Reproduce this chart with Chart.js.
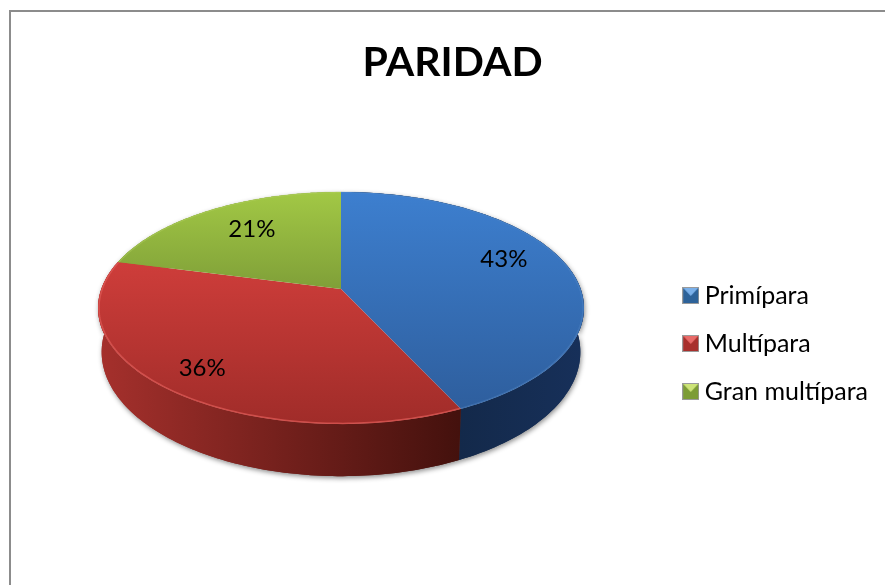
<!DOCTYPE html>
<html>
<head>
<meta charset="utf-8">
<script src="https://cdn.jsdelivr.net/npm/chart.js@4"></script>
<style>
  html, body { margin: 0; padding: 0; background: #fff; overflow: hidden; }
  canvas { display: block; }
</style>
</head>
<body>
<canvas id="paridadChart" width="885" height="585"></canvas>
<script>
const labels = ["Primípara", "Multípara", "Gran multípara"];
const values = [43, 36, 21];

// face colours per slice: top and bottom of the lid
const topColors = [["#3d7fcf", "#2d5c9a"], ["#d03e3b", "#a02c29"], ["#a2c845", "#7f9f38"]];
const lidSpans = [[192, 424], [255, 424], [192, 290]];
const sideColors = [["#13294a", "#17305a"], ["#a5302c", "#44110d"], ["#7f9f38", "#7f9f38"]];
const edgeColors = ["rgba(90,140,200,0.35)", "rgba(222,90,85,0.75)", "rgba(180,210,100,0.4)"];
const legendColors = [["#7ab0ea", "#2d6299"], ["#e86a68", "#a82f2c"], ["#cde478", "#7c9c36"]];

// label placement along each slice: radius fraction and turn in degrees
const labelRadius = [0.763, 0.815, 0.71];
const labelTurn = [-8.8, 0, 2.8];

// tilted disc geometry
const disc = { cx: 341, cy: 308, a: 239.7, b: 116, c: -19, p: -0.164, depth: 44, growY: 1.07, shrinkX: 0.985 };

// ============================
function project(theta, r) {
  const u = r * Math.cos(theta);
  const v = r * Math.sin(theta);
  const w = 1 + disc.p * v;
  return { x: disc.a * u / w, y: (disc.b * v + disc.c) / w };
}

function topPoint(theta, r = 1) {
  const q = project(theta, r);
  return { x: disc.cx + q.x, y: disc.cy + q.y };
}

function bottomPoint(theta) {
  const q = project(theta, 1);
  return { x: disc.cx + q.x * disc.shrinkX, y: disc.cy + disc.depth + q.y * disc.growY };
}

function arcAngles(arc) {
  const out = [];
  const steps = 120;
  for (let i = 0; i <= steps; i++) {
    out.push(arc.startAngle + (arc.endAngle - arc.startAngle) * i / steps);
  }
  return out;
}

// ============================
function drawSide(ctx, arc, i) {
  const angles = arcAngles(arc);
  const g = ctx.createLinearGradient(i === 0 ? 459 : 100, 0, i === 0 ? 584 : 459, 0);
  g.addColorStop(0, sideColors[i][0]);
  g.addColorStop(1, sideColors[i][1]);
  ctx.beginPath();
  angles.forEach((t, k) => {
    const q = topPoint(t);
    if (k === 0) ctx.moveTo(q.x, q.y); else ctx.lineTo(q.x, q.y);
  });
  angles.slice().reverse().forEach(t => {
    const q = bottomPoint(t);
    ctx.lineTo(q.x, q.y);
  });
  ctx.closePath();
  ctx.fillStyle = g;
  ctx.fill();
}

function lidGradient(ctx, i) {
  const g = ctx.createLinearGradient(0, lidSpans[i][0], 0, lidSpans[i][1]);
  g.addColorStop(0, topColors[i][0]);
  g.addColorStop(1, topColors[i][1]);
  return g;
}

function drawTop(ctx, arc, i) {
  const angles = arcAngles(arc);
  ctx.beginPath();
  ctx.moveTo(disc.cx + project(0, 0).x, disc.cy + project(0, 0).y);
  angles.forEach(t => {
    const q = topPoint(t);
    ctx.lineTo(q.x, q.y);
  });
  ctx.closePath();
  ctx.fillStyle = lidGradient(ctx, i);
  ctx.fill();

  // thin light rim on the lid
  ctx.beginPath();
  angles.forEach((t, k) => {
    const q = topPoint(t, 0.996);
    if (k === 0) ctx.moveTo(q.x, q.y); else ctx.lineTo(q.x, q.y);
  });
  ctx.strokeStyle = edgeColors[i];
  ctx.lineWidth = 1.5;
  ctx.stroke();
}

// ============================
const tiltedPie = {
  id: "tiltedPie",
  beforeDraw(chart) {
    const ctx = chart.ctx;
    ctx.save();
    ctx.fillStyle = "#8c8c8c";
    ctx.fillRect(9, 10, 876, 2);
    ctx.fillRect(9, 10, 2, 575);
    ctx.restore();
  },
  beforeDatasetsDraw(chart) {
    const ctx = chart.ctx;
    const arcs = chart.getDatasetMeta(0).data;

    ctx.save();
    ctx.shadowColor = "rgba(0,0,0,0.45)";
    ctx.shadowBlur = 5;
    ctx.shadowOffsetY = 2;
    ctx.shadowOffsetX = 1;
    arcs.forEach((arc, i) => drawSide(ctx, arc, i));
    ctx.restore();

    ctx.save();
    arcs.forEach((arc, i) => drawSide(ctx, arc, i));
    arcs.forEach((arc, i) => drawTop(ctx, arc, i));

    ctx.font = "24px Lato";
    ctx.fillStyle = "#000";
    ctx.textAlign = "center";
    ctx.textBaseline = "middle";
    arcs.forEach((arc, i) => {
      const mid = (arc.startAngle + arc.endAngle) / 2 + labelTurn[i] * Math.PI / 180;
      const q = topPoint(mid, labelRadius[i]);
      ctx.fillText(values[i] + "%", q.x, q.y);
    });
    ctx.restore();
    return false;
  }
};

// ============================
function legendSwatch(i) {
  const c = document.createElement("canvas");
  c.width = 17;
  c.height = 17;
  const x = c.getContext("2d");
  x.fillStyle = "#9a9a9a";
  x.fillRect(0, 0, 17, 17);
  x.fillStyle = legendColors[i][1];
  x.fillRect(1, 1, 15, 15);
  x.fillStyle = legendColors[i][0];
  x.beginPath();
  x.moveTo(1, 1);
  x.lineTo(16, 1);
  x.lineTo(8.5, 9);
  x.closePath();
  x.fill();
  return c;
}

// ============================
new Chart(document.getElementById("paridadChart"), {
  type: "pie",
  data: {
    labels: labels,
    datasets: [{ data: values, backgroundColor: ["#3a76c0", "#c0393b", "#94b944"] }]
  },
  options: {
    responsive: false,
    animation: false,
    layout: { padding: { left: 27, bottom: 158, right: 7 } },
    plugins: {
      title: {
        display: true,
        text: "PARIDAD",
        color: "#000",
        font: { family: "Lato", size: 41, weight: "bold", lineHeight: 1.2 },
        padding: { top: 38, bottom: 100 }
      },
      legend: {
        position: "right",
        align: "end",
        labels: {
          color: "#000",
          font: { family: "Lato", size: 25 },
          usePointStyle: true,
          boxWidth: 3,
          padding: 23,
          generateLabels(chart) {
            return labels.map((text, i) => ({
              text: text,
              pointStyle: legendSwatch(i),
              fillStyle: topColors[i][0],
              strokeStyle: topColors[i][0],
              lineWidth: 0,
              index: i
            }));
          }
        }
      },
      tooltip: { enabled: false }
    }
  },
  plugins: [tiltedPie]
});
</script>
</body>
</html>
